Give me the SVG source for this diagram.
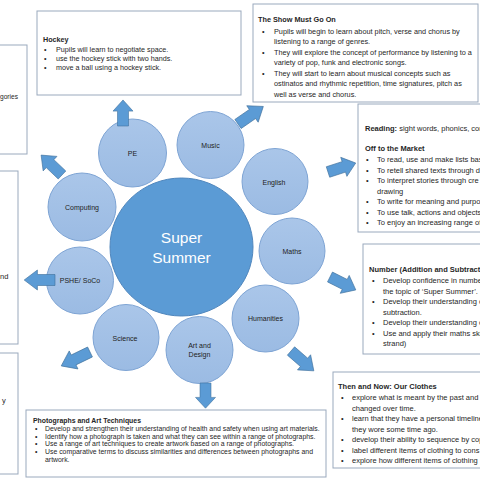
<svg xmlns="http://www.w3.org/2000/svg" xmlns:xlink="http://www.w3.org/1999/xlink" width="480" height="480" viewBox="0 0 480 480">
<defs>
<style>
.box{fill:#fff;stroke:#9aa9bd;stroke-width:1}
.t{font-family:"Liberation Sans",Arial,sans-serif;fill:#262626}
.b{font-weight:bold}
.c{fill:url(#cg);stroke:#7ea4d4;stroke-width:1}
.cl{font-family:"Liberation Sans",Arial,sans-serif;font-size:7px;fill:#222;text-anchor:middle}
.arrow{fill:#5b9bd5;stroke:#41719c;stroke-width:0.6}
</style>
<linearGradient id="cg" x1="0" y1="0" x2="0" y2="1">
<stop offset="0" stop-color="#aac6e9"/>
<stop offset="1" stop-color="#9bbbe3"/>
</linearGradient>
<path id="arr" d="M0,-5.5 H16 V-10 L28,0 L16,10 V5.5 H0 Z"/>
</defs>
<rect width="480" height="480" fill="#fff"/>

<g id="box-left-top">
<rect class="box" x="-2" y="45" width="29" height="109"/>
<text class="t" x="0" y="99" font-size="7.2" textLength="18" lengthAdjust="spacingAndGlyphs">gories</text>
</g>
<g id="box-left-mid">
<rect class="box" x="-2" y="171" width="20" height="173"/>
<text class="t" x="0" y="279" font-size="7.5">nd</text>
</g>
<g id="box-left-bottom">
<rect class="box" x="-2" y="353" width="20" height="121"/>
<text class="t" x="2" y="403" font-size="7.5">y</text>
</g>

<g id="box-hockey" class="t" font-size="7.2">
<rect class="box" x="37" y="11" width="204" height="84"/>
<text class="b" x="43" y="41.5">Hockey</text>
<text x="44" y="51.5">•</text><text x="56" y="51.5">Pupils will learn to negotiate space.</text>
<text x="44" y="60.5">•</text><text x="56" y="60.5">use the hockey stick with two hands.</text>
<text x="44" y="69.5">•</text><text x="56" y="69.5">move a ball using a hockey stick.</text>
</g>

<g id="box-show" class="t" font-size="7.3">
<rect class="box" x="253" y="4" width="225" height="98"/>
<text class="b" x="258" y="22">The Show Must Go On</text>
<text x="262" y="33.5">•</text><text x="274" y="33.5">Pupils will begin to learn about pitch, verse and chorus by</text>
<text x="274" y="44">listening to a range of genres.</text>
<text x="262" y="54.5">•</text><text x="274" y="54.5">They will explore the concept of performance by listening to a</text>
<text x="274" y="65">variety of pop, funk and electronic songs.</text>
<text x="262" y="75.5">•</text><text x="274" y="75.5">They will start to learn about musical concepts such as</text>
<text x="274" y="86">ostinatos and rhythmic repetition, time signatures, pitch as</text>
<text x="274" y="96.5">well as verse and chorus.</text>
</g>

<g id="box-reading" class="t" font-size="7.5">
<rect class="box" x="358" y="104" width="126" height="128"/>
<text x="365" y="131"><tspan class="b">Reading:</tspan> sight words, phonics, com</text>
<text class="b" x="365" y="151">Off to the Market</text>
<text x="366" y="162">•</text><text x="377" y="162">To read, use and make lists base</text>
<text x="366" y="172.5">•</text><text x="377" y="172.5">To retell shared texts through d</text>
<text x="366" y="183">•</text><text x="377" y="183">To interpret stories through cre</text>
<text x="377" y="193.5">drawing</text>
<text x="366" y="204">•</text><text x="377" y="204">To write for meaning and purpo</text>
<text x="366" y="214.5">•</text><text x="377" y="214.5">To use talk, actions and objects</text>
<text x="366" y="225">•</text><text x="377" y="225">To enjoy an increasing range of</text>
</g>

<g id="box-number" class="t" font-size="7.5">
<rect class="box" x="363" y="244" width="121" height="110"/>
<text class="b" x="369" y="271.5">Number (Addition and Subtractio</text>
<text x="372" y="283">•</text><text x="383" y="283">Develop confidence in number</text>
<text x="383" y="293.5">the topic of ‘Super Summer’.</text>
<text x="372" y="304">•</text><text x="383" y="304">Develop their understanding o</text>
<text x="383" y="314.5">subtraction.</text>
<text x="372" y="325">•</text><text x="383" y="325">Develop their understanding o</text>
<text x="372" y="335.5">•</text><text x="383" y="335.5">Use and apply their maths skill</text>
<text x="383" y="346">strand)</text>
</g>

<g id="box-then-now" class="t" font-size="7.5">
<rect class="box" x="333" y="372" width="151" height="96"/>
<text class="b" x="338" y="388.5">Then and Now: Our Clothes</text>
<text x="341" y="400">•</text><text x="352" y="400">explore what is meant by the past and p</text>
<text x="352" y="410.5">changed over time.</text>
<text x="341" y="421">•</text><text x="352" y="421">learn that they have a personal timeline</text>
<text x="352" y="431.5">they wore some time ago.</text>
<text x="341" y="442">•</text><text x="352" y="442">develop their ability to sequence by cop</text>
<text x="341" y="452.5">•</text><text x="352" y="452.5">label different items of clothing to cons</text>
<text x="341" y="463">•</text><text x="352" y="463">explore how different items of clothing</text>
</g>

<g id="box-photographs" class="t" font-size="6.9">
<rect class="box" x="26" y="410" width="300" height="67"/>
<text class="b" x="33" y="423">Photographs and Art Techniques</text>
<text x="35" y="431">•</text><text x="45" y="431">Develop and strengthen their understanding of health and safety when using art materials.</text>
<text x="35" y="438.7">•</text><text x="45" y="438.7">Identify how a photograph is taken and what they can see within a range of photographs.</text>
<text x="35" y="446.4">•</text><text x="45" y="446.4">Use a range of art techniques to create artwork based on a range of photographs.</text>
<text x="35" y="454.1">•</text><text x="45" y="454.1">Use comparative terms to discuss similarities and differences between photographs and</text>
<text x="45" y="461.8">artwork.</text>
</g>

<g id="node-super-summer">
<ellipse cx="181.5" cy="247" rx="71.5" ry="69" fill="#5b9bd5" stroke="#4f86bd" stroke-width="1"/>
<text x="181.5" y="242.5" font-family="'Liberation Sans',Arial,sans-serif" font-size="15.5" fill="#fff" text-anchor="middle">Super</text>
<text x="181.5" y="262.5" font-family="'Liberation Sans',Arial,sans-serif" font-size="15.5" fill="#fff" text-anchor="middle">Summer</text>
</g>
<g id="node-pe"><circle class="c" cx="132.5" cy="153" r="34"/><text class="cl" x="132.5" y="155.5">PE</text></g>
<g id="node-music"><circle class="c" cx="210.5" cy="145" r="33.5"/><text class="cl" x="210.5" y="147.5">Music</text></g>
<g id="node-english"><circle class="c" cx="275" cy="181.5" r="33"/><text class="cl" x="274" y="184.5">English</text></g>
<g id="node-maths"><circle class="c" cx="292" cy="251" r="33"/><text class="cl" x="292" y="253.5">Maths</text></g>
<g id="node-humanities"><circle class="c" cx="265.5" cy="318.5" r="33.5"/><text class="cl" x="265.5" y="321">Humanities</text></g>
<g id="node-art"><circle class="c" cx="199.5" cy="350" r="33.5"/><text class="cl" x="199.5" y="348">Art and</text><text class="cl" x="199.5" y="357">Design</text></g>
<g id="node-science"><circle class="c" cx="126" cy="337.5" r="33"/><text class="cl" x="125" y="340.5">Science</text></g>
<g id="node-pshe"><circle class="c" cx="80" cy="280.5" r="33.5"/><text class="cl" x="80" y="283">PSHE/ SoCo</text></g>
<g id="node-computing"><circle class="c" cx="82" cy="207" r="34"/><text class="cl" x="82" y="209.5">Computing</text></g>

<g id="connectors" class="arrow">
<use xlink:href="#arr" href="#arr" transform="translate(123,126) rotate(-90) scale(0.93,1)"/>
<use xlink:href="#arr" href="#arr" transform="translate(238,124) rotate(-34.7) scale(1.1,1)"/>
<use xlink:href="#arr" href="#arr" transform="translate(328,172) rotate(-18) scale(1.04,1)"/>
<use xlink:href="#arr" href="#arr" transform="translate(330,277) rotate(26.6) scale(1.03,1)"/>
<use xlink:href="#arr" href="#arr" transform="translate(291,351) rotate(41) scale(1.08,1)"/>
<use xlink:href="#arr" href="#arr" transform="translate(205.5,383) rotate(90) scale(0.9,1)"/>
<use xlink:href="#arr" href="#arr" transform="translate(90,352) rotate(154.2) scale(1.14,1)"/>
<use xlink:href="#arr" href="#arr" transform="translate(55,280) rotate(180) scale(1.1,1)"/>
<use xlink:href="#arr" href="#arr" transform="translate(62,175) rotate(-136.4) scale(1.03,1)"/>
</g>
</svg>
